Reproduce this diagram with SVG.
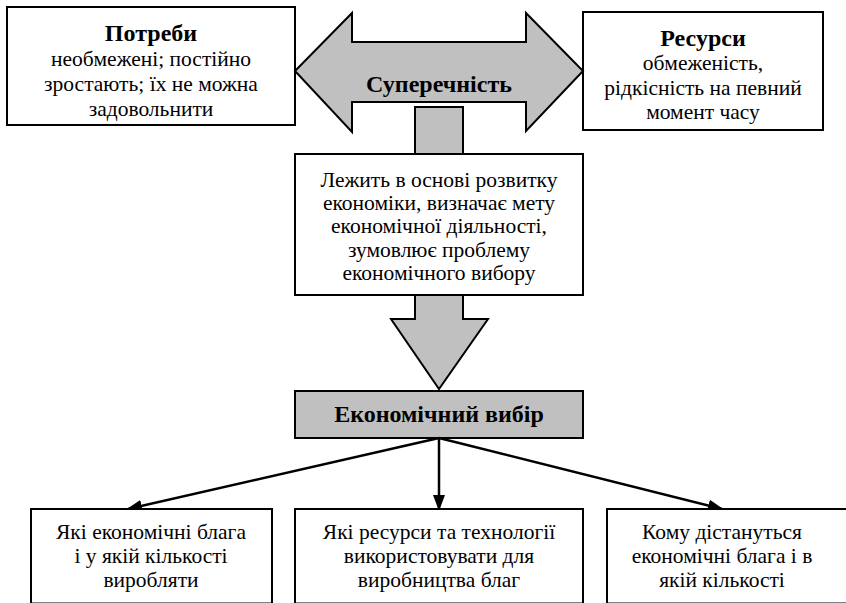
<svg xmlns="http://www.w3.org/2000/svg" width="846" height="603" viewBox="0 0 846 603">
<style>
.box{fill:#fff;stroke:#000;stroke-width:2}
.grey{fill:#c0c0c0;stroke:#000;stroke-width:2}
text{fill:#000;text-anchor:middle}
.t{font-size:21.5px}
.b{font-size:24px;font-weight:bold}
.conn{stroke:#000;stroke-width:2.5;fill:none}
</style>
<defs>
<marker id="ah" markerWidth="16" markerHeight="12" refX="14" refY="6" orient="auto" markerUnits="userSpaceOnUse">
<path d="M0,0 L16,6 L0,12 Z" fill="#000"/>
</marker>
</defs>
<rect width="846" height="603" fill="#fff"/>
<g font-family="'Liberation Serif', 'DejaVu Serif', serif">
<g id="potreby">
<rect class="box" x="7" y="7" width="288" height="118"/>
<text class="b" x="151" y="41">Потреби</text>
<text class="t" x="151" y="66">необмежені; постійно</text>
<text class="t" x="151" y="91">зростають; їх не можна</text>
<text class="t" x="151" y="116">задовольнити</text>
</g>
<g id="resursy">
<rect class="box" x="583" y="12" width="240" height="118"/>
<text class="b" x="703" y="46">Ресурси</text>
<text class="t" x="703" y="70">обмеженість,</text>
<text class="t" x="703" y="95">рідкісність на певний</text>
<text class="t" x="703" y="119">момент часу</text>
</g>
<g id="superechnist">
<polygon class="grey" points="295,71 352,13 352,42 526,42 526,13 583,71 526,131 526,102 352,102 352,132"/>
<text class="b" x="439" y="92">Суперечність</text>
</g>
<g id="stem">
<rect class="grey" x="415" y="107" width="48" height="47"/>
</g>
<g id="lezhyt">
<rect class="box" x="295" y="154" width="288" height="141"/>
<text class="t" x="439" y="187">Лежить в основі розвитку</text>
<text class="t" x="439" y="210">економіки, визначає мету</text>
<text class="t" x="439" y="233">економічної діяльності,</text>
<text class="t" x="439" y="257">зумовлює проблему</text>
<text class="t" x="439" y="280">економічного вибору</text>
</g>
<g id="down-arrow">
<polygon class="grey" points="415,295 463,295 463,319 488,319 439,389 391,319 415,319"/>
</g>
<g id="vybir">
<rect class="grey" x="295" y="391" width="288" height="47"/>
<text class="b" x="439" y="422">Економічний вибір</text>
</g>
<g id="connectors">
<line class="conn" x1="439" y1="438" x2="128" y2="509" marker-end="url(#ah)"/>
<line class="conn" x1="439" y1="438" x2="439" y2="509" marker-end="url(#ah)"/>
<line class="conn" x1="439" y1="438" x2="722" y2="509" marker-end="url(#ah)"/>
</g>
<g id="q1">
<rect class="box" x="31" y="509" width="241" height="94.5"/>
<text class="t" x="151" y="539">Які економічні блага</text>
<text class="t" x="151" y="563">і у якій кількості</text>
<text class="t" x="151" y="587">виробляти</text>
</g>
<g id="q2">
<rect class="box" x="295" y="509" width="288" height="94.5"/>
<text class="t" x="439" y="539">Які ресурси та технології</text>
<text class="t" x="439" y="563">використовувати для</text>
<text class="t" x="439" y="587">виробництва благ</text>
</g>
<g id="q3">
<rect class="box" x="607" y="509" width="245" height="94.5"/>
<text class="t" x="722" y="539">Кому дістануться</text>
<text class="t" x="722" y="563">економічні блага і в</text>
<text class="t" x="722" y="587">якій кількості</text>
</g>
</g>
</svg>
